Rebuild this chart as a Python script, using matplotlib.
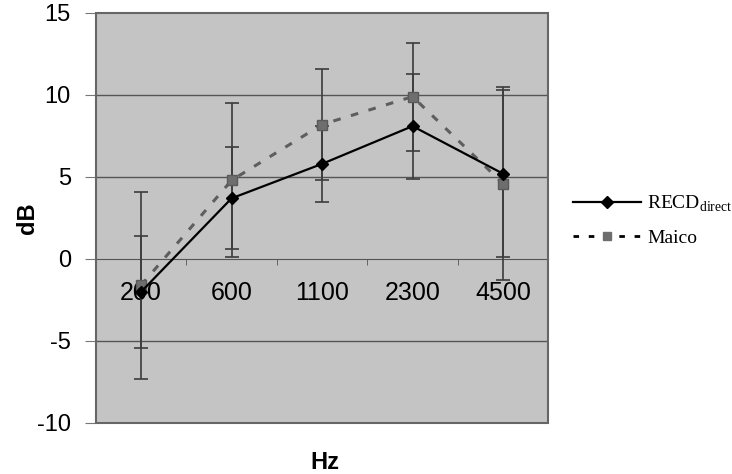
import matplotlib.pyplot as plt
from matplotlib.patches import Rectangle
from matplotlib.lines import Line2D

plt.rcParams['mathtext.fontset'] = 'custom'
plt.rcParams['mathtext.rm'] = 'Liberation Serif'
plt.rcParams['axes.unicode_minus'] = False

freqs = ['200', '600', '1100', '2300', '4500']
recd = [-2.0, 3.7, 5.8, 8.1, 5.2]
recd_err = [3.4, 3.1, 2.3, 3.2, 5.1]
maico = [-1.6, 4.8, 8.2, 9.9, 4.6]
maico_err = [5.7, 4.7, 3.4, 3.3, 5.9]

fig = plt.figure(figsize=(7.32, 4.74), dpi=100)
ax = fig.add_axes([0.131, 0.1076, 0.618, 0.865])
ax.set_facecolor('#c4c4c4')

x = range(len(freqs))

# error bars first, lines on top
ax.errorbar(x, maico, yerr=maico_err, fmt='none', ecolor='#3c3c3c', elinewidth=1.2,
            capsize=5, capthick=1.2, zorder=3)
ax.errorbar(x, recd, yerr=recd_err, fmt='none', ecolor='#3c3c3c', elinewidth=1.2,
            capsize=5, capthick=1.2, zorder=3)
ax.plot(x, maico, color='#5e5e5e', linestyle=(0, (2.5, 3.5)), linewidth=2.2,
        marker='s', markersize=7, markerfacecolor='#6e6e6e', markeredgecolor='#5a5a5a', zorder=4)
ax.plot(x, recd, color='black', linewidth=1.6, marker='D', markersize=6,
        markerfacecolor='black', zorder=5)

ax.set_xlim(-0.5, 4.5)
ax.set_ylim(-10, 15)
ax.set_yticks([-10, -5, 0, 5, 10, 15])
for yv in [-5, 5, 10]:
    ax.axhline(yv, color='#555555', linewidth=1.0, zorder=1)

for s in ['top', 'right', 'left']:
    ax.spines[s].set_visible(False)
ax.spines['bottom'].set_position(('data', 0))
ax.spines['bottom'].set_color('#555555')
ax.add_patch(Rectangle((0, 0), 1, 1, transform=ax.transAxes, fill=False,
                       edgecolor='#666666', linewidth=1.5, zorder=6, clip_on=False))

ax.set_xticks(list(x))
ax.set_xticklabels(freqs)
ax.set_xticks([0.5, 1.5, 2.5, 3.5], minor=True)
ax.tick_params(axis='x', which='major', length=0, pad=16, labelsize=18)
ax.tick_params(axis='x', which='minor', length=4, color='#555555', direction='out')
ax.tick_params(axis='y', length=8, color='#777777', labelsize=17, pad=10)
for lab in ax.get_xticklabels() + ax.get_yticklabels():
    lab.set_family('Liberation Sans')

ax.set_ylabel('dB', fontsize=17, fontweight='bold', family='Liberation Sans')
ax.yaxis.set_label_coords(-0.125, 0.5)
fig.text(0.444, 0.01, 'Hz', fontsize=17, fontweight='bold', family='Liberation Sans', ha='center')

handles = [
    Line2D([], [], color='black', linewidth=1.6, marker='D', markersize=6),
    Line2D([], [], color='black', linestyle=(0, (2, 3.5)), linewidth=2,
           marker='s', markersize=6, markerfacecolor='#6e6e6e', markeredgecolor='#6e6e6e'),
]
fig.legend(handles, ['RECD$_{\\rm direct}$', 'Maico'], loc='center left',
           bbox_to_anchor=(0.783, 0.535), frameon=False, handlelength=3.5,
           handletextpad=0.3, borderaxespad=0, borderpad=0,
           labelspacing=0.75, prop={'family': 'Liberation Serif', 'size': 14})

fig.savefig('out.png', dpi=100)
